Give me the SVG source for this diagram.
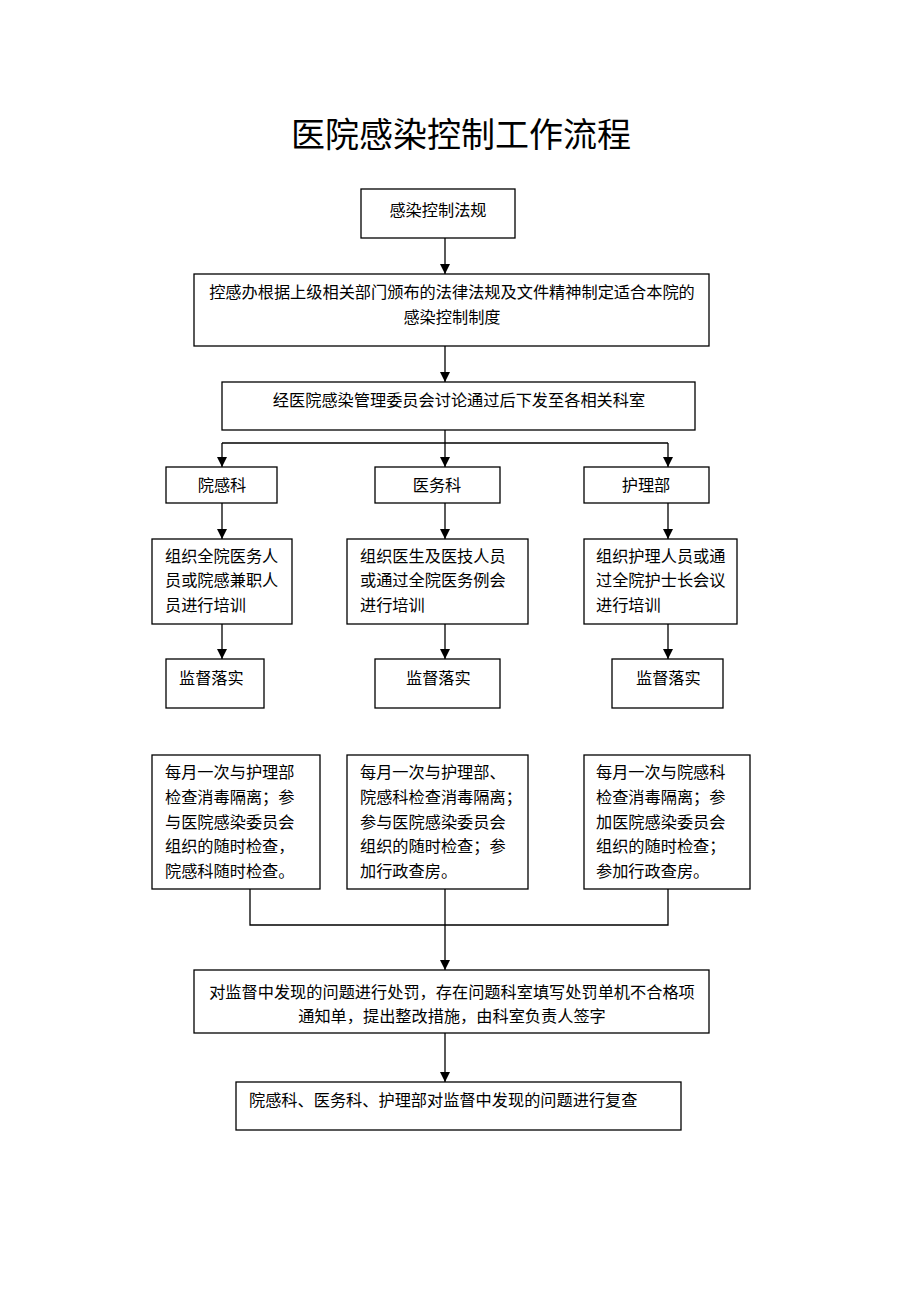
<svg xmlns="http://www.w3.org/2000/svg" width="920" height="1302" viewBox="0 0 920 1302">
<style>
.box{fill:#fff;stroke:#000;stroke-width:1.3}
.t{font-family:"Liberation Serif","Noto Sans CJK SC",serif;font-size:16.2px;fill:#000}
.c{text-anchor:middle}
.ln{fill:none;stroke:#000;stroke-width:1.3}
.title{font-family:"Liberation Serif","Noto Sans CJK SC",serif;font-size:34px;fill:#000;text-anchor:middle}
</style>
<defs>
<marker id="ah" viewBox="0 0 10 10" refX="10" refY="5" markerWidth="10" markerHeight="10" markerUnits="userSpaceOnUse" orient="auto">
<path d="M0,0 L10,5 L0,10 Z" fill="#000"/>
</marker>
</defs>
<rect width="920" height="1302" fill="#fff"/>
<text class="title" x="461" y="147">医院感染控制工作流程</text>

<g id="connectors">
<line class="ln" x1="445" y1="238" x2="445" y2="274" marker-end="url(#ah)"/>
<line class="ln" x1="445" y1="346" x2="445" y2="382" marker-end="url(#ah)"/>
<line class="ln" x1="445" y1="430" x2="445" y2="443"/>
<polyline class="ln" points="222,443 668,443"/>
<line class="ln" x1="222" y1="443" x2="222" y2="467" marker-end="url(#ah)"/>
<line class="ln" x1="445" y1="443" x2="445" y2="467" marker-end="url(#ah)"/>
<line class="ln" x1="668" y1="443" x2="668" y2="467" marker-end="url(#ah)"/>
<line class="ln" x1="222" y1="503" x2="222" y2="539" marker-end="url(#ah)"/>
<line class="ln" x1="445" y1="503" x2="445" y2="539" marker-end="url(#ah)"/>
<line class="ln" x1="668" y1="503" x2="668" y2="539" marker-end="url(#ah)"/>
<line class="ln" x1="222" y1="624" x2="222" y2="659" marker-end="url(#ah)"/>
<line class="ln" x1="445" y1="624" x2="445" y2="659" marker-end="url(#ah)"/>
<line class="ln" x1="668" y1="624" x2="668" y2="659" marker-end="url(#ah)"/>
<polyline class="ln" points="250,889 250,925 668,925 668,889"/>
<line class="ln" x1="445" y1="889" x2="445" y2="970" marker-end="url(#ah)"/>
<line class="ln" x1="445" y1="1033" x2="445" y2="1082" marker-end="url(#ah)"/>
</g>

<g id="n1"><rect class="box" x="361" y="189" width="154" height="49"/><text class="t c" x="438" y="216">感染控制法规</text></g>
<g id="n2"><rect class="box" x="194" y="274" width="515" height="72"/>
<text class="t c" x="452" y="298">控感办根据上级相关部门颁布的法律法规及文件精神制定适合本院的</text>
<text class="t c" x="452" y="323">感染控制制度</text></g>
<g id="n3"><rect class="box" x="222" y="382" width="473" height="48"/><text class="t c" x="459" y="406">经医院感染管理委员会讨论通过后下发至各相关科室</text></g>

<g id="n4"><rect class="box" x="166" y="467" width="111" height="36"/><text class="t c" x="222" y="491">院感科</text></g>
<g id="n5"><rect class="box" x="375" y="467" width="125" height="36"/><text class="t c" x="437" y="491">医务科</text></g>
<g id="n6"><rect class="box" x="584" y="467" width="125" height="36"/><text class="t c" x="646" y="491">护理部</text></g>

<g id="n7"><rect class="box" x="152" y="539" width="140" height="85"/>
<text class="t" x="165" y="562">组织全院医务人</text>
<text class="t" x="165" y="586">员或院感兼职人</text>
<text class="t" x="165" y="611">员进行培训</text></g>
<g id="n8"><rect class="box" x="347" y="539" width="181" height="85"/>
<text class="t" x="360" y="562">组织医生及医技人员</text>
<text class="t" x="360" y="586">或通过全院医务例会</text>
<text class="t" x="360" y="611">进行培训</text></g>
<g id="n9"><rect class="box" x="584" y="539" width="153" height="85"/>
<text class="t" x="596" y="562">组织护理人员或通</text>
<text class="t" x="596" y="586">过全院护士长会议</text>
<text class="t" x="596" y="611">进行培训</text></g>

<g id="n10"><rect class="box" x="166" y="659" width="98" height="49"/><text class="t" x="179" y="684">监督落实</text></g>
<g id="n11"><rect class="box" x="375" y="659" width="125" height="49"/><text class="t" x="406" y="684">监督落实</text></g>
<g id="n12"><rect class="box" x="612" y="659" width="111" height="49"/><text class="t" x="636" y="684">监督落实</text></g>

<g id="n13"><rect class="box" x="152" y="755" width="168" height="134"/>
<text class="t" x="165" y="778">每月一次与护理部</text>
<text class="t" x="165" y="803">检查消毒隔离；参</text>
<text class="t" x="165" y="828">与医院感染委员会</text>
<text class="t" x="165" y="852">组织的随时检查，</text>
<text class="t" x="165" y="877">院感科随时检查。</text></g>
<g id="n14"><rect class="box" x="347" y="755" width="181" height="134"/>
<text class="t" x="360" y="778">每月一次与护理部、</text>
<text class="t" x="360" y="803">院感科检查消毒隔离；</text>
<text class="t" x="360" y="828">参与医院感染委员会</text>
<text class="t" x="360" y="852">组织的随时检查；参</text>
<text class="t" x="360" y="877">加行政查房。</text></g>
<g id="n15"><rect class="box" x="584" y="755" width="166" height="134"/>
<text class="t" x="596" y="778">每月一次与院感科</text>
<text class="t" x="596" y="803">检查消毒隔离；参</text>
<text class="t" x="596" y="828">加医院感染委员会</text>
<text class="t" x="596" y="852">组织的随时检查；</text>
<text class="t" x="596" y="877">参加行政查房。</text></g>

<g id="n16"><rect class="box" x="194" y="970" width="515" height="63"/>
<text class="t c" x="452" y="998">对监督中发现的问题进行处罚，存在问题科室填写处罚单机不合格项</text>
<text class="t c" x="452" y="1022">通知单，提出整改措施，由科室负责人签字</text></g>
<g id="n17"><rect class="box" x="236" y="1082" width="445" height="48"/>
<text class="t" x="249" y="1106">院感科、医务科、护理部对监督中发现的问题进行复查</text></g>
</svg>
